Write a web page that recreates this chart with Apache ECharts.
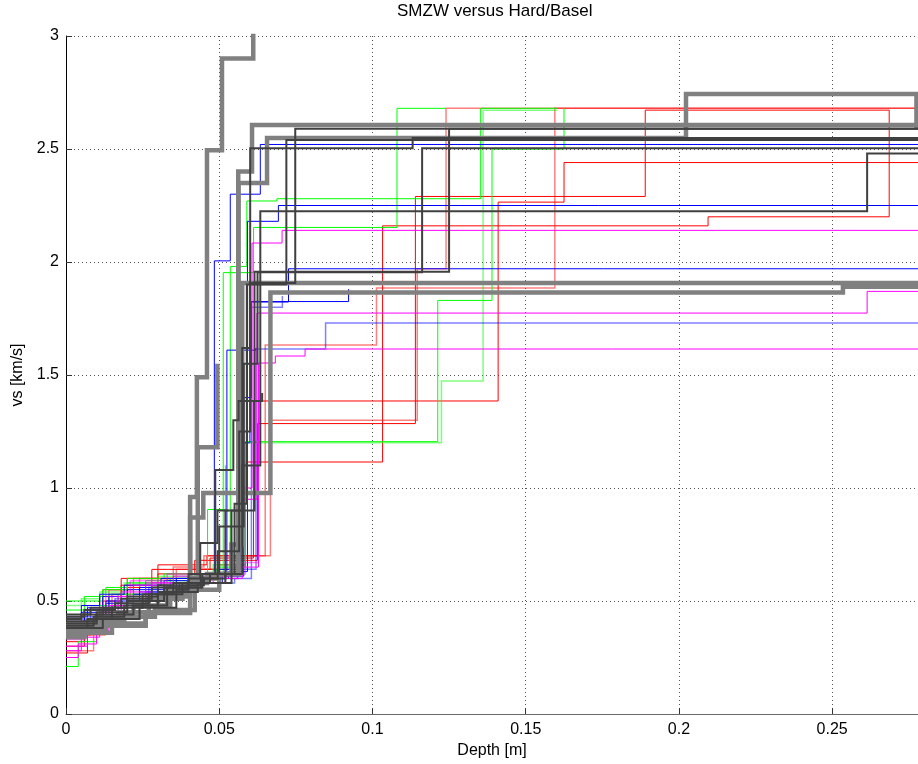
<!DOCTYPE html>
<html><head><meta charset="utf-8">
<script src="https://cdn.jsdelivr.net/npm/echarts@6/dist/echarts.min.js"></script>
<style>html,body{margin:0;padding:0;background:#fff}#c{width:918px;height:764px}</style>
</head><body><div id="c"></div>
<script>
// ---- data: each profile = [depth, vs] breakpoints (step drawn at each depth) ----
const xTicks = [0, 0.05, 0.1, 0.15, 0.2, 0.25];
const yTicks = [0, 0.5, 1, 1.5, 2, 2.5, 3];

// thin red
const red1 = [[0,0.30],[0.006,0.38],[0.012,0.50],[0.018,0.57],[0.028,0.60],[0.040,0.64],[0.050,0.66],[0.0585,1.115],[0.1033,2.16],[0.2095,2.20],[0.2686,2.672]];
const red2 = [[0,0.27],[0.007,0.35],[0.013,0.47],[0.020,0.56],[0.030,0.62],[0.042,0.68],[0.052,0.68],[0.0625,1.285],[0.114,2.29],[0.189,2.672],[0.2686,2.672]];
const red4 = [[0,0.32],[0.006,0.40],[0.011,0.52],[0.018,0.60],[0.028,0.64],[0.047,0.69],[0.0612,1.385],[0.141,2.265],[0.1625,2.44],[0.278,2.44]];
const red6 = [[0,0.36],[0.005,0.44],[0.012,0.55],[0.020,0.60],[0.030,0.66],[0.046,0.70],[0.0595,0.70],[0.0625,1.24]];
// light red
const lred3 = [[0,0.28],[0.009,0.36],[0.015,0.53],[0.024,0.60],[0.035,0.65],[0.045,0.70],[0.0667,1.30],[0.1146,1.97],[0.124,2.68],[0.278,2.68]];
const lred5 = [[0,0.35],[0.008,0.42],[0.014,0.55],[0.022,0.60],[0.036,0.64],[0.055,0.70],[0.065,1.633],[0.1013,1.885],[0.1595,2.68],[0.278,2.68]];
// green
const grn1 = [[0,0.21],[0.004,0.32],[0.010,0.44],[0.017,0.53],[0.026,0.59],[0.042,0.62],[0.0513,1.953],[0.0612,2.153],[0.108,2.68],[0.124,2.68]];
const grn2 = [[0,0.50],[0.006,0.52],[0.013,0.56],[0.020,0.60],[0.032,0.62],[0.050,0.65],[0.0585,1.205],[0.1213,1.83],[0.139,2.50],[0.1625,2.68]];
const grn4 = [[0,0.44],[0.007,0.48],[0.014,0.53],[0.022,0.57],[0.033,0.60],[0.049,0.64],[0.0536,1.98],[0.059,2.27],[0.0688,2.28],[0.1353,2.68],[0.1605,2.68]];
const grn5 = [[0,0.46],[0.006,0.50],[0.012,0.55],[0.020,0.58],[0.034,0.60],[0.044,0.62],[0.0462,0.905],[0.052,1.10]];
const lgrn3 = [[0,0.48],[0.005,0.51],[0.011,0.54],[0.019,0.58],[0.030,0.61],[0.048,0.66],[0.0585,1.20],[0.1225,1.473],[0.1361,2.672],[0.1603,2.672]];
// blue
const blu1 = [[0,0.41],[0.006,0.46],[0.012,0.52],[0.020,0.55],[0.032,0.59],[0.046,0.62],[0.0484,2.005],[0.0536,2.30],[0.0634,2.52],[0.278,2.52]];
const blu2 = [[0,0.43],[0.007,0.47],[0.014,0.52],[0.024,0.56],[0.036,0.60],[0.053,0.63],[0.0592,2.18],[0.0693,2.25],[0.278,2.25]];
const blu3 = [[0,0.40],[0.006,0.44],[0.013,0.49],[0.022,0.53],[0.034,0.58],[0.052,0.61],[0.058,1.40],[0.0605,1.823],[0.0726,1.97],[0.278,1.97]];
const blu5 = [[0,0.44],[0.005,0.48],[0.011,0.53],[0.019,0.57],[0.031,0.60],[0.050,0.64],[0.057,1.20],[0.060,1.825],[0.0922,1.88]];
const blu7 = [[0,0.42],[0.005,0.45],[0.013,0.50],[0.024,0.54],[0.037,0.58],[0.051,0.62],[0.0525,1.61],[0.062,1.62]];
const lblu4 = [[0,0.42],[0.008,0.46],[0.016,0.51],[0.027,0.56],[0.040,0.60],[0.056,0.64],[0.062,1.615],[0.0847,1.73],[0.278,1.73]];
const lblu6 = [[0,0.39],[0.007,0.43],[0.015,0.48],[0.026,0.54],[0.039,0.58],[0.055,0.60],[0.0605,1.80],[0.0706,1.85]];
// magenta
const mag1 = [[0,0.28],[0.005,0.34],[0.011,0.45],[0.018,0.54],[0.028,0.58],[0.048,0.60],[0.056,1.00],[0.0607,2.084],[0.0705,2.14],[0.278,2.14]];
const mag2 = [[0,0.25],[0.004,0.31],[0.010,0.42],[0.017,0.52],[0.026,0.58],[0.046,0.60],[0.0575,0.95],[0.0623,1.774],[0.2614,1.87],[0.278,1.87]];
const mag3 = [[0,0.30],[0.007,0.37],[0.014,0.48],[0.022,0.57],[0.035,0.61],[0.055,0.65],[0.0628,1.553],[0.0683,1.584],[0.078,1.615],[0.278,1.615]];
const lmag4 = [[0,0.33],[0.006,0.41],[0.013,0.52],[0.021,0.59],[0.033,0.62],[0.0585,0.67],[0.0628,1.30]];
// thick gray
const gry1 = [[0,0.35],[0.006,0.37],[0.013,0.40],[0.026,0.447],[0.0405,0.96],[0.0427,1.49],[0.046,2.495],[0.0509,2.90],[0.0611,3.20]];
const gry2 = [[0,0.37],[0.008,0.40],[0.018,0.45],[0.030,0.52],[0.040,0.58],[0.046,0.62],[0.0562,2.40],[0.0607,2.606],[0.278,2.606]];
const gry3 = [[0,0.40],[0.010,0.43],[0.022,0.48],[0.033,0.55],[0.042,0.60],[0.049,0.62],[0.0563,2.35],[0.0656,2.549],[0.2023,2.743],[0.2775,2.60],[0.278,2.60]];
const gry4 = [[0,0.34],[0.006,0.36],[0.015,0.39],[0.026,0.45],[0.034,0.53],[0.0405,0.87],[0.0448,0.978],[0.0667,1.865],[0.2535,1.89],[0.278,1.89]];
const gry5 = [[0,0.38],[0.007,0.41],[0.017,0.45],[0.027,0.51],[0.038,0.55],[0.050,0.62],[0.054,0.75],[0.0575,1.907],[0.278,1.907]];
const gry6 = [[0,0.36],[0.009,0.39],[0.019,0.43],[0.029,0.46],[0.042,0.60],[0.043,1.18],[0.0494,1.55]];
// dark gray
const dgy1 = [[0,0.42],[0.005,0.44],[0.012,0.47],[0.020,0.52],[0.030,0.57],[0.045,0.60],[0.052,0.90],[0.0575,1.62],[0.060,1.907],[0.0748,2.59],[0.278,2.59]];
const dgy2 = [[0,0.38],[0.007,0.42],[0.015,0.47],[0.025,0.53],[0.035,0.58],[0.047,0.62],[0.055,0.93],[0.059,1.90],[0.0719,2.54],[0.278,2.54]];
const dgy3 = [[0,0.40],[0.010,0.45],[0.020,0.50],[0.032,0.56],[0.044,0.60],[0.0495,0.72],[0.0565,1.25],[0.0601,2.503],[0.1131,2.549],[0.278,2.549]];
const dgy4 = [[0,0.44],[0.008,0.47],[0.018,0.51],[0.028,0.56],[0.040,0.62],[0.050,0.83],[0.058,1.55],[0.0625,1.955],[0.1162,2.503],[0.278,2.503]];
const dgy5 = [[0,0.39],[0.009,0.43],[0.019,0.48],[0.030,0.54],[0.043,0.58],[0.054,0.90],[0.0615,1.957],[0.125,2.59],[0.278,2.59]];
const dgy7 = [[0,0.43],[0.006,0.46],[0.016,0.49],[0.027,0.53],[0.038,0.58],[0.052,0.62],[0.0575,1.10],[0.0634,2.225],[0.2614,2.48],[0.278,2.48]];
const dgy8 = [[0,0.41],[0.010,0.44],[0.022,0.48],[0.033,0.56],[0.0445,0.62],[0.0487,1.08],[0.0546,1.30],[0.0563,1.385],[0.064,1.42]];
const dgy9 = [[0,0.38],[0.012,0.42],[0.024,0.47],[0.036,0.55],[0.040,0.60],[0.0438,0.757],[0.0494,0.90],[0.0530,0.90]];

// ---- styles (kept apart from the data) ----
const RED='#ff0000', LRED='rgba(255,0,0,0.5)', GRN='#00ff00', LGRN='rgba(0,255,0,0.5)',
      BLU='#0000ff', LBLU='rgba(0,0,255,0.5)', MAG='#ff00ff', LMAG='rgba(255,0,255,0.5)',
      GRY='#808080', DGY='#404040';
const layers = [
  [red1,RED,1],[red2,RED,1],[red4,RED,1],[red6,RED,1],[lred3,LRED,1.5],[lred5,LRED,1.5],
  [grn1,GRN,1],[grn2,GRN,1],[grn4,GRN,1],[grn5,GRN,1],[lgrn3,LGRN,1.5],
  [blu1,BLU,1],[blu2,BLU,1],[blu3,BLU,1],[blu5,BLU,1],[blu7,BLU,1],[lblu4,LBLU,1.5],[lblu6,LBLU,1.5],
  [mag1,MAG,1],[mag2,MAG,1],[mag3,MAG,1],[lmag4,LMAG,1.5],
  [gry1,GRY,4.5],[gry2,GRY,4.5],[gry3,GRY,4.5],[gry4,GRY,4.5],[gry5,GRY,4.5],[gry6,GRY,4.5],
  [dgy1,DGY,2],[dgy2,DGY,2],[dgy3,DGY,2],[dgy4,DGY,2],[dgy5,DGY,2],[dgy7,DGY,2],[dgy8,DGY,2],[dgy9,DGY,2]
];

const series = layers.map(([d,c,w],i)=>({
  type:'line', step:'end', data:d, showSymbol:false, symbol:'none', clip:true,
  lineStyle:{color:c,width:w,cap:'butt',join:'miter'}, z:2+i*0.01, silent:true
}));

const FONT = 'Liberation Sans, Arial, Helvetica, sans-serif';
const chart = echarts.init(document.getElementById('c'), null, {renderer:'canvas'});
chart.setOption({
  animation:false,
  backgroundColor:'#fff',
  grid:{left:66,right:0,top:36,bottom:50,containLabel:false},
  graphic:[{type:'text',left:397,top:3,style:{text:'SMZW versus Hard/Basel',font:'17px '+FONT,fill:'#000'}}],
  xAxis:{
    type:'value', min:0, max:0.278, interval:0.05,
    name:'Depth [m]', nameLocation:'middle', nameGap:27,
    nameTextStyle:{fontFamily:FONT,fontSize:16,color:'#000'},
    axisLine:{show:true,lineStyle:{color:'#6a6a6a',width:1}},
    axisTick:{show:true,inside:true,length:6,lineStyle:{color:'#333'}},
    axisLabel:{fontFamily:FONT,fontSize:16,color:'#000',margin:8,showMaxLabel:false,
      formatter:v=>xTicks.some(t=>Math.abs(t-v)<1e-9)?String(+v.toFixed(2)):''},
    splitLine:{show:true,lineStyle:{color:'#555',width:1,type:[1,3]}}
  },
  yAxis:{
    type:'value', min:0, max:3, interval:0.5,
    name:'vs [km/s]', nameLocation:'middle', nameGap:40, nameRotate:90,
    nameTextStyle:{fontFamily:FONT,fontSize:16,color:'#000'},
    axisLine:{show:true,lineStyle:{color:'#000',width:1}},
    axisTick:{show:true,inside:true,length:6,lineStyle:{color:'#333'}},
    axisLabel:{fontFamily:FONT,fontSize:16,color:'#000',margin:7,
      formatter:v=>yTicks.some(t=>Math.abs(t-v)<1e-9)?String(+v.toFixed(1)):''},
    splitLine:{show:true,lineStyle:{color:'#555',width:1,type:[1,3]}}
  },
  series:series
});
</script></body></html>
